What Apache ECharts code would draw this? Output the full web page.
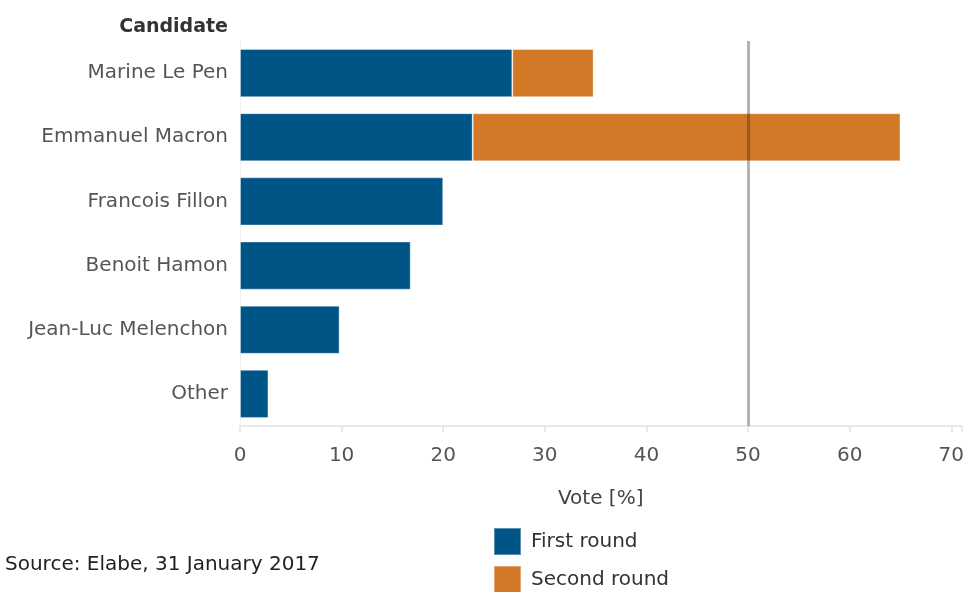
<!DOCTYPE html>
<html><head><meta charset="utf-8">
<script src="https://cdn.jsdelivr.net/npm/echarts@6/dist/echarts.min.js"></script>
<style>html,body{margin:0;padding:0;background:#fff}#c{width:967px;height:592px}</style>
</head><body><div id="c"></div>
<script>
const candidates = ["Marine Le Pen","Emmanuel Macron","Francois Fillon","Benoit Hamon","Jean-Luc Melenchon","Other"];
const firstRound = [26.8, 22.9, 20, 16.8, 9.8, 2.8];
const secondRoundExtra = [8, 42.1, null, null, null, null];
const xTicks = [0,10,20,30,40,50,60,70];
const threshold = 50;
const FONT = "DejaVu Sans";
const legendStyle = {orient:'vertical',left:493,padding:0,itemWidth:27,itemHeight:27,
  icon:'rect',textStyle:{color:'#333',fontSize:20,fontFamily:FONT,padding:[0,0,0,5]}};
const chart = echarts.init(document.getElementById('c'));
chart.setOption({
  animation:false,
  textStyle:{fontFamily:FONT},
  grid:{left:240,right:1,top:41,bottom:166,containLabel:false},
  xAxis:{type:'value',min:0,max:71,interval:10,
    name:'Vote [%]',nameLocation:'middle',nameGap:63,
    nameTextStyle:{color:'#444',fontSize:20,fontFamily:FONT},
    axisLine:{show:true,lineStyle:{color:'#e8e8e8',width:2}},
    axisTick:{show:true,length:6,lineStyle:{color:'#e8e8e8',width:2}},
    axisLabel:{color:'#555',fontSize:20,margin:20,fontFamily:FONT,
      formatter:v=>xTicks.indexOf(v)>=0?String(v):''},
    splitLine:{show:false}},
  yAxis:{type:'category',data:candidates,inverse:true,
    axisLine:{show:true,lineStyle:{color:'#f0f0f0',width:1}},
    axisTick:{show:false},
    axisLabel:{color:'#555',fontSize:20,margin:12,fontFamily:FONT}},
  legend:[
    Object.assign({top:527,data:['First round']},legendStyle),
    Object.assign({top:565,data:['Second round']},legendStyle)
  ],
  graphic:[
    {type:'text',x:228,y:27,style:{text:'Candidate',align:'right',verticalAlign:'middle',fill:'#333',fontSize:19,fontWeight:'bold',fontFamily:FONT}},
    {type:'text',x:5,y:565,style:{text:'Source: Elabe, 31 January 2017',align:'left',verticalAlign:'middle',fill:'#222',fontSize:20,fontFamily:FONT}}
  ],
  series:[
    {name:'First round',type:'bar',stack:'v',data:firstRound,barCategoryGap:'25%',
     itemStyle:{color:'#005587',borderColor:'rgba(255,255,255,0.35)',borderWidth:1}},
    {name:'Second round',type:'bar',stack:'v',data:secondRoundExtra,
     itemStyle:{color:'#d37826',borderColor:'rgba(255,255,255,0.35)',borderWidth:1},
     markLine:{silent:true,symbol:'none',label:{show:false},z:10,
       lineStyle:{color:'rgba(40,40,40,0.35)',width:3,type:'solid'},
       data:[{xAxis:threshold}]}}
  ]
});
</script></body></html>
